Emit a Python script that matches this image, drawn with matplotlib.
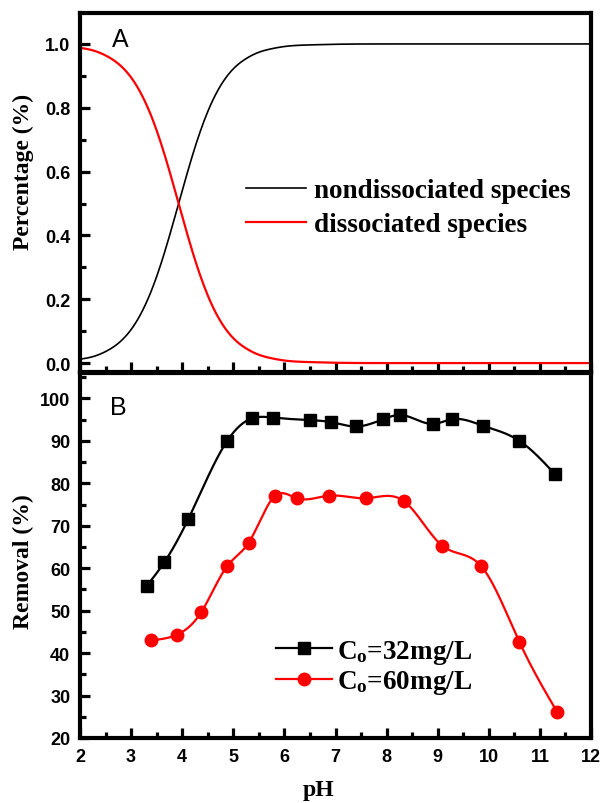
import numpy as np
import matplotlib
matplotlib.use("Agg")
import matplotlib.pyplot as plt
from matplotlib.ticker import MultipleLocator

# ---- (A) species distribution vs pH ----
ph_species = [2.0, 2.25, 2.5, 2.75, 3.0, 3.25, 3.5, 3.75, 4.0, 4.25, 4.5, 4.75,
              5.0, 5.25, 5.5, 5.75, 6.0, 6.5, 7.0, 8.0, 9.0, 10.0, 11.0, 12.0]
nondissociated = [0.012, 0.020, 0.036, 0.062, 0.105, 0.173, 0.271, 0.398, 0.540,
                  0.676, 0.788, 0.869, 0.922, 0.954, 0.974, 0.985, 0.992, 0.997,
                  0.999, 1.000, 1.000, 1.000, 1.000, 1.000]
dissociated = [0.988, 0.980, 0.964, 0.938, 0.895, 0.827, 0.729, 0.602, 0.460,
               0.324, 0.212, 0.131, 0.078, 0.046, 0.026, 0.015, 0.008, 0.003,
               0.001, 0.000, 0.000, 0.000, 0.000, 0.000]

# ---- (B) removal vs pH ----
ph_32 = [3.31, 3.65, 4.12, 4.88, 5.36, 5.77, 6.50, 6.92, 7.40, 7.93, 8.27,
         8.91, 9.28, 9.88, 10.60, 11.30]
removal_32 = [55.9, 61.4, 71.6, 90.0, 95.3, 95.5, 94.9, 94.4, 93.4, 95.1, 96.1,
              94.0, 95.1, 93.6, 90.0, 82.1]
ph_60 = [3.38, 3.89, 4.37, 4.88, 5.30, 5.82, 6.24, 6.87, 7.60, 8.34, 9.09,
         9.85, 10.60, 11.34]
removal_60 = [43.0, 44.3, 49.6, 60.5, 66.0, 77.1, 76.5, 77.1, 76.5, 75.8, 65.3,
              60.5, 42.6, 26.1]

x_ticks = [2, 3, 4, 5, 6, 7, 8, 9, 10, 11, 12]
species_labels = ["nondissociated species", "dissociated species"]
removal_labels = [r"$\mathrm{C_o}$=32mg/L", r"$\mathrm{C_o}$=60mg/L"]


def natural_spline(x, y, n=400):
    """Smooth connecting line through the points (natural cubic spline)."""
    x = np.asarray(x, float)
    y = np.asarray(y, float)
    m = len(x)
    h = np.diff(x)
    A = np.zeros((m, m))
    b = np.zeros(m)
    A[0, 0] = A[-1, -1] = 1.0
    for i in range(1, m - 1):
        A[i, i - 1] = h[i - 1]
        A[i, i] = 2 * (h[i - 1] + h[i])
        A[i, i + 1] = h[i]
        b[i] = 3 * ((y[i + 1] - y[i]) / h[i] - (y[i] - y[i - 1]) / h[i - 1])
    c = np.linalg.solve(A, b)
    xs = np.linspace(x[0], x[-1], n)
    idx = np.clip(np.searchsorted(x, xs) - 1, 0, m - 2)
    dx = xs - x[idx]
    bb = (y[idx + 1] - y[idx]) / h[idx] - h[idx] * (2 * c[idx] + c[idx + 1]) / 3
    d = (c[idx + 1] - c[idx]) / (3 * h[idx])
    ys = y[idx] + bb * dx + c[idx] * dx ** 2 + d * dx ** 3
    return xs, ys


plt.rcParams["mathtext.fontset"] = "custom"
plt.rcParams["mathtext.rm"] = "Liberation Serif:bold"
plt.rcParams["mathtext.bf"] = "Liberation Serif:bold"

tick_font = {"family": "Liberation Sans", "weight": "bold", "size": 13}
label_font = {"family": "Liberation Serif", "weight": "bold", "size": 17}
legend_font = {"family": "Liberation Serif", "weight": "bold", "size": 19.5}

fig = plt.figure(figsize=(6.04, 8.04), dpi=100)
W, H = 604, 804
left, right = 80, 591
ax_a = fig.add_axes([left / W, 1 - 373 / H, (right - left) / W, (373 - 14) / H])
ax_b = fig.add_axes([left / W, 1 - 739 / H, (right - left) / W, (739 - 374) / H])


def style_axes(ax):
    for s in ax.spines.values():
        s.set_linewidth(3)
    ax.tick_params(which="both", direction="in", top=False, right=False,
                   width=2.3)
    ax.tick_params(which="major", length=7.5, pad=7)
    ax.tick_params(which="minor", length=4.3)
    for lab in ax.get_xticklabels() + ax.get_yticklabels():
        lab.set_fontproperties(tick_font)
        lab.set_fontweight("bold")


# Panel A
xs, ys = natural_spline(ph_species, nondissociated)
ax_a.plot(xs, ys, color="black", lw=1.2, label=species_labels[0])
xs, ys = natural_spline(ph_species, dissociated)
ax_a.plot(xs, ys, color="#ff0000", lw=1.6, label=species_labels[1])
ax_a.set_xlim(2, 12)
ax_a.set_ylim(-0.028, 1.097)
ax_a.set_xticks(x_ticks)
ax_a.xaxis.set_minor_locator(MultipleLocator(0.5))
ax_a.set_yticks([0.0, 0.2, 0.4, 0.6, 0.8, 1.0])
ax_a.yaxis.set_minor_locator(MultipleLocator(0.1))
ax_a.set_yticklabels(["0.0", "0.2", "0.4", "0.6", "0.8", "1.0"])
style_axes(ax_a)
ax_a.tick_params(axis="x", labelbottom=False)
ax_a.set_ylabel("Percentage (%)", fontdict=label_font)
ax_a.yaxis.set_label_coords(-0.09, 0.56)
ax_a.text(0.078, 0.928, "A", transform=ax_a.transAxes, ha="center",
          va="center", family="Liberation Sans", size=18)
ax_a.legend(loc="upper left", bbox_to_anchor=(0.325, 0.54), frameon=False,
            prop=legend_font, handlelength=2.22, handletextpad=0.3,
            labelspacing=0.34, borderpad=0, borderaxespad=0)

# Panel B
xs, ys = natural_spline(ph_32, removal_32)
ax_b.plot(xs, ys, color="black", lw=1.6)
ax_b.plot(ph_32, removal_32, ls="none", marker="s", ms=8, color="black")
xs, ys = natural_spline(ph_60, removal_60)
ax_b.plot(xs, ys, color="#ff0000", lw=1.6)
ax_b.plot(ph_60, removal_60, ls="none", marker="o", ms=9, color="#ff0000")
h32, = ax_b.plot([], [], color="black", lw=1.6, marker="s", ms=8)
h60, = ax_b.plot([], [], color="#ff0000", lw=1.6, marker="o", ms=9)
ax_b.set_xlim(2, 12)
ax_b.set_ylim(20, 106)
ax_b.set_xticks(x_ticks)
ax_b.set_xticklabels([str(t) for t in x_ticks])
ax_b.xaxis.set_minor_locator(MultipleLocator(0.5))
ax_b.set_yticks(range(20, 101, 10))
ax_b.yaxis.set_minor_locator(MultipleLocator(5))
style_axes(ax_b)
ax_b.set_ylabel("Removal (%)", fontdict=label_font)
ax_b.yaxis.set_label_coords(-0.09, 0.485)
ax_b.set_xlabel("pH", fontdict=label_font)
ax_b.xaxis.set_label_coords(0.466, -0.112)
ax_b.text(0.074, 0.907, "B", transform=ax_b.transAxes, ha="center",
          va="center", family="Liberation Sans", size=18)
ax_b.legend([h32, h60], removal_labels, loc="upper left",
            bbox_to_anchor=(0.384, 0.275), frameon=False, prop=legend_font,
            handlelength=2.07, handletextpad=0.19, labelspacing=0.1,
            borderpad=0, borderaxespad=0, numpoints=1)

fig.savefig("out.png", dpi=100)
